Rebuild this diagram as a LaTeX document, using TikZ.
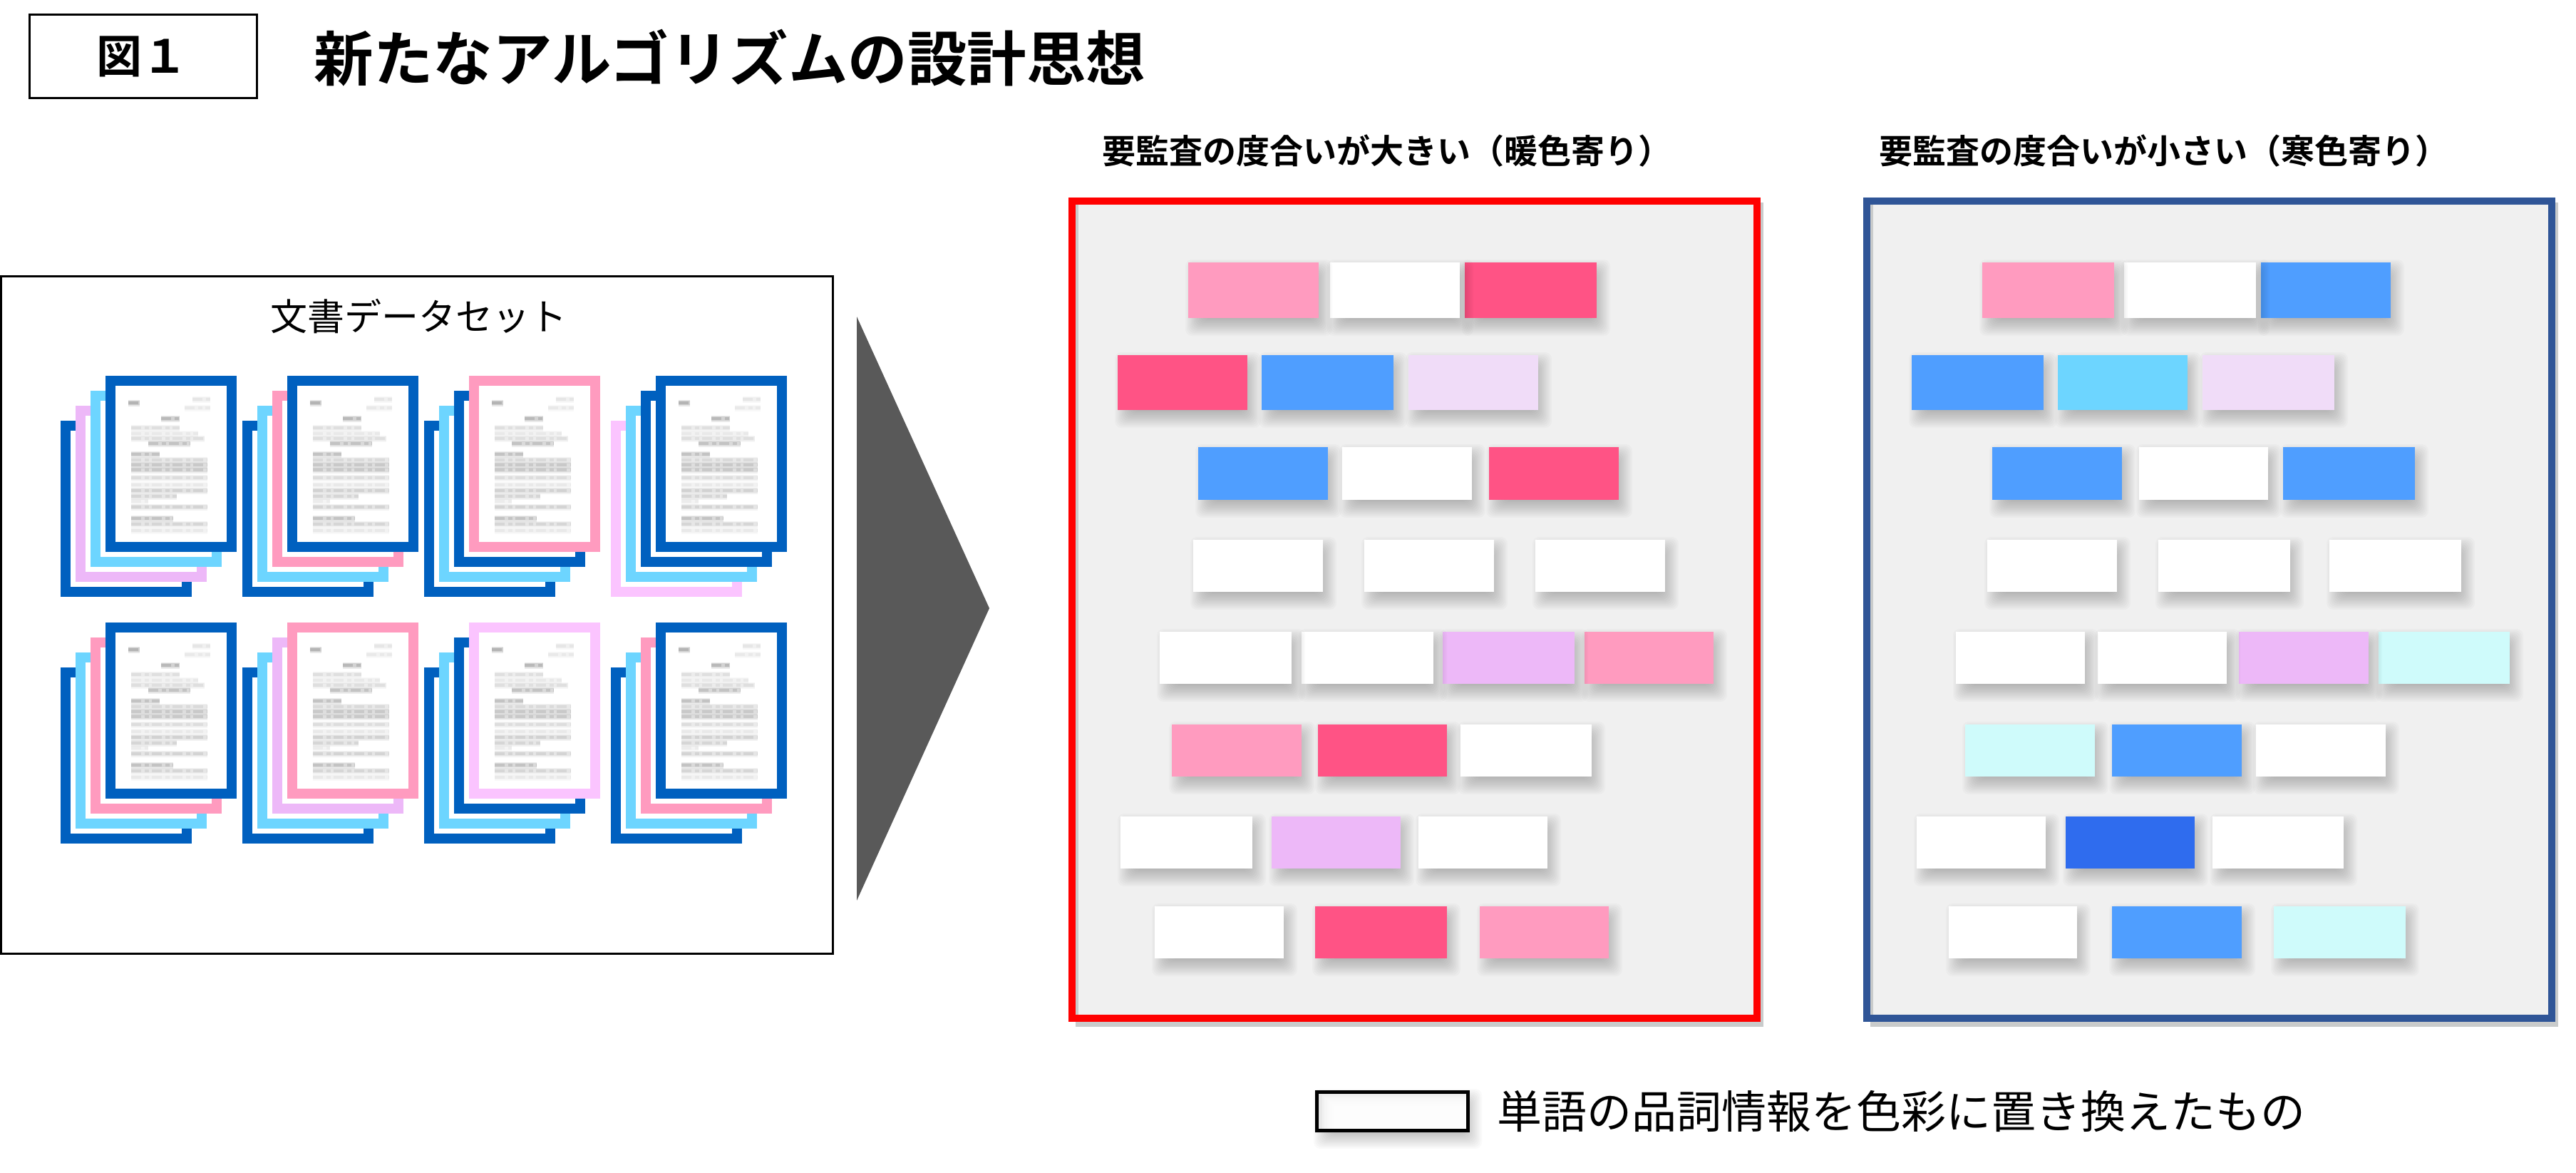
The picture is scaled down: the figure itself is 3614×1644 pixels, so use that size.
\documentclass[tikz,border=0pt]{standalone}
\usepackage{fontspec}
\setmainfont{Noto Sans CJK JP}[BoldFont=* Bold]
\definecolor{dBlue}{HTML}{0060BF}
\definecolor{dCyan}{HTML}{6DD5FF}
\definecolor{dPink}{HTML}{FF9BBF}
\definecolor{dLav}{HTML}{EDB8F8}
\definecolor{dLil}{HTML}{FBC4FF}
\definecolor{bHot}{HTML}{FF5385}
\definecolor{bPink}{HTML}{FF9BBF}
\definecolor{bBlue}{HTML}{4F9EFF}
\definecolor{bSky}{HTML}{6DD5FF}
\definecolor{bIce}{HTML}{CFFBFB}
\definecolor{bPale}{HTML}{F0DCF8}
\definecolor{bLav}{HTML}{EDB8F8}
\definecolor{bDeep}{HTML}{2F6CEE}
\definecolor{panelGrey}{HTML}{F0F0F0}
\definecolor{panelEdge}{HTML}{C9CBCB}
\definecolor{frameBlue}{HTML}{2F5597}
\definecolor{arrowGrey}{HTML}{595959}
\tikzset{
  framebox/.style={draw=black,fill=white,line width=3pt},
  titletext/.style={font=\bfseries\fontsize{83.5}{90}\selectfont,inner sep=0pt,anchor=center},
  figtext/.style={font=\bfseries\fontsize{64}{70}\selectfont,inner sep=0pt,anchor=center},
  headtext/.style={font=\bfseries\fontsize{47}{52}\selectfont,inner sep=0pt,anchor=center},
  settext/.style={font=\fontsize{52}{58}\selectfont,inner sep=0pt,anchor=center},
  legendtext/.style={font=\fontsize{63}{68}\selectfont,inner sep=0pt,anchor=center},
}
% word block with soft shadow
\newcommand\blk[5]{%
  \foreach \sh in {-12,-10,...,14}{%
    \fill[black,opacity=.02,rounded corners=9pt] (#1+10-\sh,#2+10-\sh) rectangle (#3+5+\sh,#4+11+\sh);}%
  \fill[#5] (#1,#2) rectangle (#3,#4);}
% one sheet of paper
\newcommand\sheet[3]{%
  \fill[white] (#1,#2) rectangle (#1+184,#2+247);
  \draw[#3,line width=14pt] (#1+7,#2+7) rectangle (#1+177,#2+240);}
% one blurred line of text
\newcommand\tl[4]{%
  \draw[black,opacity=.035*#4,line width=9pt] (#1,#3) -- (#2,#3);
  \draw[black,opacity=.04*#4,line width=6pt] (#1,#3) -- (#2,#3);
  \draw[black,opacity=.05*#4,line width=4pt,dash pattern=on 14pt off 5pt on 6pt off 4pt] (#1,#3) -- (#2,#3);}
\newcommand\doctext{%
  \tl{32}{48}{38}{2.6}\tl{122}{147}{33}{.8}\tl{111}{147}{45}{.7}\tl{78}{104}{60}{2.4}
  \tl{36}{104}{73}{1}\tl{36}{130}{81}{.7}\tl{36}{139}{88}{1}\tl{60}{119}{95}{2}
  \tl{36}{76}{110}{2}\tl{36}{143}{118}{1.2}\tl{36}{143}{125}{1.8}\tl{36}{143}{132}{1.8}
  \tl{36}{143}{143}{1.1}\tl{36}{143}{153}{.7}\tl{36}{143}{161}{1.5}\tl{36}{100}{169}{1.3}
  \tl{36}{60}{176}{.6}\tl{36}{143}{184}{1.4}\tl{36}{95}{200}{2}\tl{36}{143}{208}{1.3}
  \tl{36}{143}{217}{.7}}
\newcommand\docgroup[6]{%
  \sheet{#1-63}{#2+63}{#6}\sheet{#1-42}{#2+42}{#5}\sheet{#1-21}{#2+21}{#4}\sheet{#1}{#2}{#3}
  \begin{scope}[shift={(#1,#2)}]\doctext\end{scope}}
\begin{document}
\begin{tikzpicture}[x=1pt,y=-1pt]
\useasboundingbox (0,0) rectangle (3614,1644);
\fill[white] (0,0) rectangle (3614,1644);

% heading
\draw[black,line width=3pt] (41,20) rectangle (360,137);
\node[figtext] (fig) at (199,79) {図１};
\node[titletext] (title) at (1024,81) {新たなアルゴリズムの設計思想};

% data set frame
\draw[framebox] (1.5,387.5) rectangle (1168,1337);
\node[settext] (setlabel) at (587,443) {文書データセット};
\docgroup{148}{527}{dBlue}{dCyan}{dLav}{dBlue}
\docgroup{403}{527}{dBlue}{dPink}{dCyan}{dBlue}
\docgroup{658}{527}{dPink}{dBlue}{dCyan}{dBlue}
\docgroup{920}{527}{dBlue}{dBlue}{dCyan}{dLil}
\docgroup{148}{873}{dBlue}{dPink}{dCyan}{dBlue}
\docgroup{403}{873}{dPink}{dLav}{dCyan}{dBlue}
\docgroup{658}{873}{dLil}{dBlue}{dCyan}{dBlue}
\docgroup{920}{873}{dBlue}{dPink}{dCyan}{dBlue}

% big arrow
\fill[arrowGrey] (1202,444) -- (1388,853) -- (1202,1263) -- cycle;

% left panel
\node[headtext] (headL) at (1946,211) {要監査の度合いが大きい（暖色寄り）};
\fill[panelEdge] (1509,284) rectangle (2474,1440);
\fill[panelGrey] (1513,285) rectangle (2467,1430);
\blk{2055}{368}{2240}{446}{bHot}\blk{1866}{368}{2048}{446}{white}\blk{1667}{368}{1850}{446}{bPink}
\blk{1976}{498}{2158}{575}{bPale}\blk{1770}{498}{1955}{575}{bBlue}\blk{1568}{498}{1750}{575}{bHot}
\blk{2089}{627}{2271}{701}{bHot}\blk{1883}{627}{2065}{701}{white}\blk{1681}{627}{1863}{701}{bBlue}
\blk{2154}{757}{2336}{830}{white}\blk{1914}{757}{2096}{830}{white}\blk{1674}{757}{1856}{830}{white}
\blk{2223}{886}{2404}{959}{bPink}\blk{2024}{886}{2209}{959}{bLav}\blk{1826}{886}{2011}{959}{white}\blk{1627}{886}{1812}{959}{white}
\blk{2049}{1016}{2233}{1089}{white}\blk{1849}{1016}{2030}{1089}{bHot}\blk{1644}{1016}{1826}{1089}{bPink}
\blk{1990}{1145}{2171}{1218}{white}\blk{1784}{1145}{1965}{1218}{bLav}\blk{1572}{1145}{1757}{1218}{white}
\blk{2076}{1271}{2257}{1344}{bPink}\blk{1845}{1271}{2030}{1344}{bHot}\blk{1620}{1271}{1801}{1344}{white}
\draw[red,line width=10pt] (1504,282) rectangle (2465,1428);

% right panel
\node[headtext] (headR) at (3036,211) {要監査の度合いが小さい（寒色寄り）};
\fill[panelEdge] (2624,284) rectangle (3589,1440);
\fill[panelGrey] (2628,285) rectangle (3580,1430);
\blk{3172}{368}{3354}{446}{bBlue}\blk{2980}{368}{3165}{446}{white}\blk{2781}{368}{2966}{446}{bPink}
\blk{3090}{498}{3275}{575}{bPale}\blk{2887}{498}{3069}{575}{bSky}\blk{2682}{498}{2867}{575}{bBlue}
\blk{3203}{627}{3388}{701}{bBlue}\blk{3001}{627}{3182}{701}{white}\blk{2795}{627}{2977}{701}{bBlue}
\blk{3268}{757}{3453}{830}{white}\blk{3028}{757}{3213}{830}{white}\blk{2788}{757}{2970}{830}{white}
\blk{3337}{886}{3521}{959}{bIce}\blk{3141}{886}{3323}{959}{bLav}\blk{2943}{886}{3124}{959}{white}\blk{2744}{886}{2925}{959}{white}
\blk{3165}{1016}{3347}{1089}{white}\blk{2963}{1016}{3145}{1089}{bBlue}\blk{2757}{1016}{2939}{1089}{bIce}
\blk{3104}{1145}{3288}{1218}{white}\blk{2898}{1145}{3079}{1218}{bDeep}\blk{2689}{1145}{2870}{1218}{white}
\blk{3190}{1271}{3375}{1344}{bIce}\blk{2963}{1271}{3145}{1344}{bBlue}\blk{2734}{1271}{2914}{1344}{white}
\draw[frameBlue,line width=10pt] (2619,282) rectangle (3580,1428);

% legend
\blk{1847}{1531}{2060}{1586}{white}
\fill[black!14] (1847,1531) rectangle (2060,1586);
\foreach \i in {0,...,7}{\fill[white,opacity=.4] (1851+3.5*\i,1533+3*\i) rectangle (2060,1586);}
\draw[black,line width=5pt] (1847.5,1531.5) rectangle (2059.5,1585.5);
\node[legendtext] (legend) at (2667,1559) {単語の品詞情報を色彩に置き換えたもの};
\end{tikzpicture}
\end{document}
